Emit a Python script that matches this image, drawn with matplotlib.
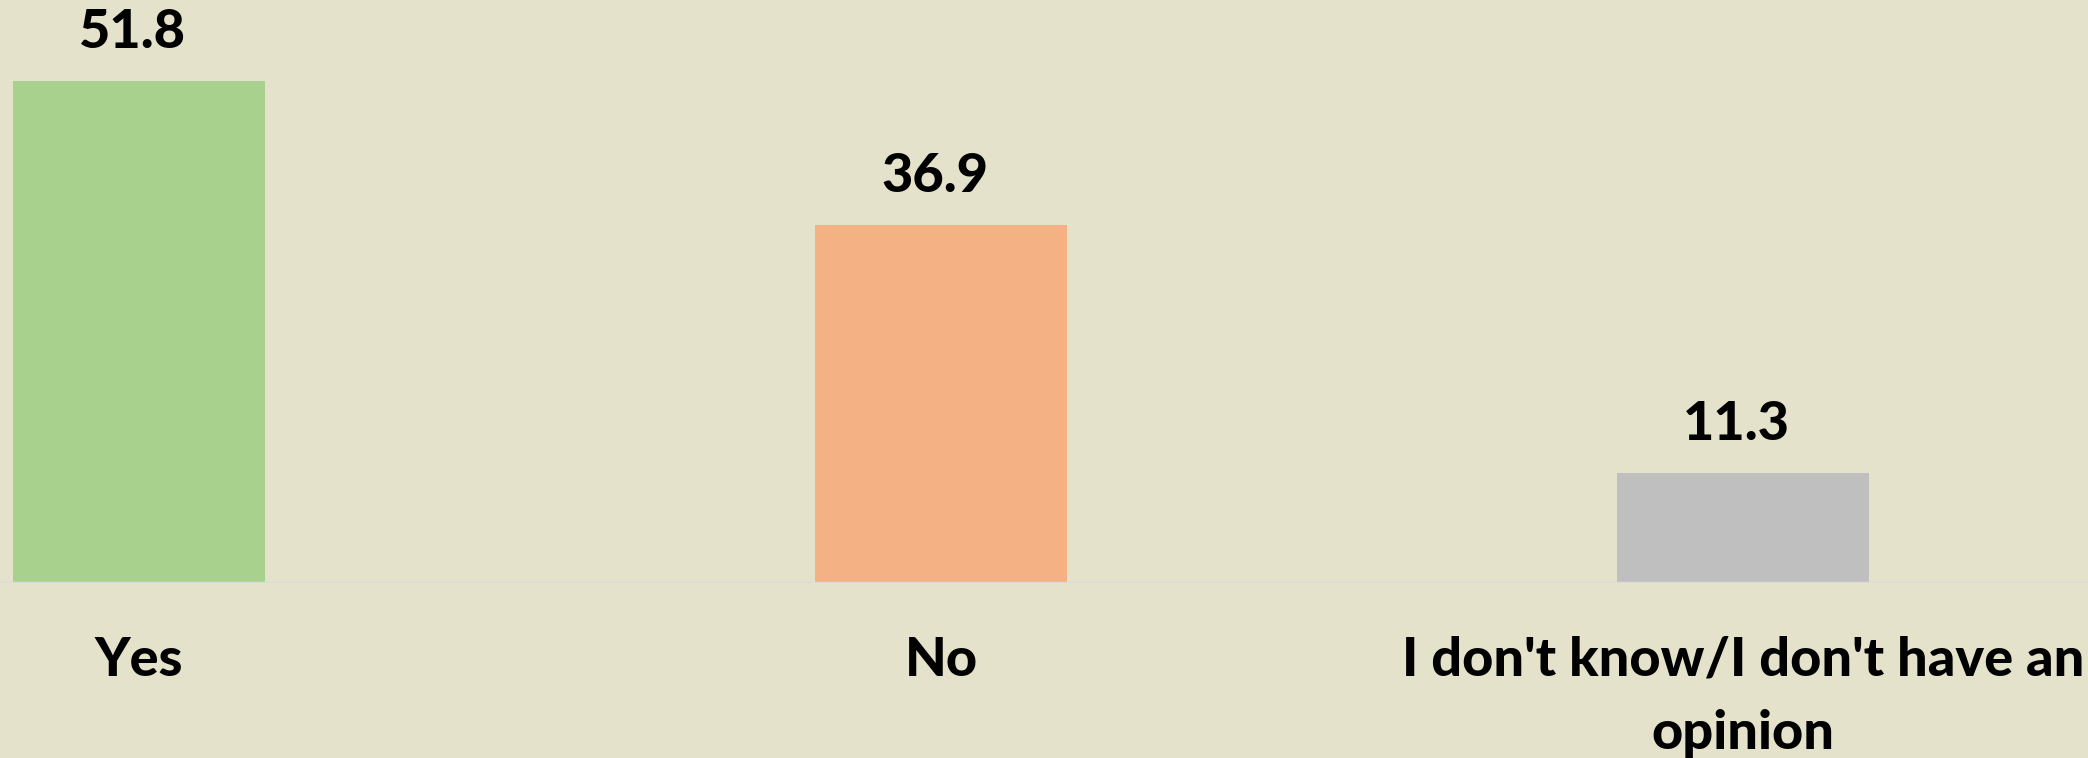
import matplotlib
matplotlib.use("Agg")
import matplotlib.pyplot as plt

categories = ["Yes", "No", "I don't know/I don't have an\nopinion"]
values = [51.8, 36.9, 11.3]
colors = ["#A9D18E", "#F4B183", "#BFBFBF"]
value_labels = ["51.8", "36.9", "11.3"]

W, H = 2088, 758
fig = plt.figure(figsize=(W / 100, H / 100), dpi=100)
bg = "#E5E2CB"
fig.patch.set_facecolor(bg)

base_px = 583  # baseline from top
ax = fig.add_axes([0, (H - base_px) / H, 1, base_px / H])
ax.set_facecolor(bg)

x = list(range(len(categories)))
ax.bar(x, values, width=0.314, color=colors, zorder=2)
ax.set_xlim(-0.1733, 2.430)
ax.set_ylim(0, 60.16)

for xi, v, lab in zip(x, values, value_labels):
    ax.annotate(lab, (xi - 0.008, v), xytext=(0, 24), textcoords="offset pixels",
                ha="center", va="bottom", fontsize=39, fontweight="black",
                family="Lato", color="black")

ax.axhline(0, color="#DADADA", lw=2.5, zorder=3)
for s in ax.spines.values():
    s.set_visible(False)
ax.set_yticks([])
ax.set_xticks(x)
ax.set_xticklabels(categories, fontsize=39, fontweight="black", family="Lato",
                   linespacing=1.6)
ax.tick_params(axis="x", length=0, pad=38)

fig.savefig("out.png", dpi=100, facecolor=bg)
